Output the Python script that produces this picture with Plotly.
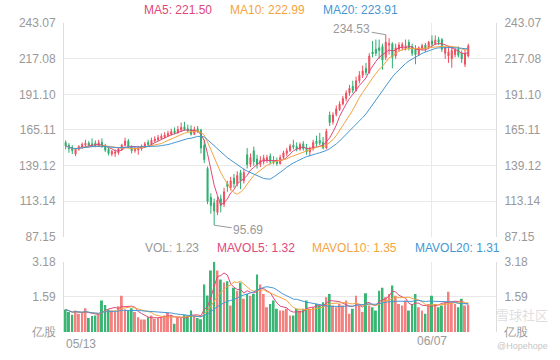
import plotly.graph_objects as go
import pandas as pd

# ---------------- data ----------------
x_tick_labels = ["05/13", "06/07"]
x_tick_index = [0, 111]

open_p = [156.0, 154.0, 152.5, 147.5, 151.0, 152.5, 154.0, 155.5, 155.0, 155.5,
          153.5, 156.0, 153.5, 151.0, 147.5, 148.0, 148.5, 151.0, 154.0, 157.0,
          153.0, 150.0, 150.5, 151.5, 153.0, 156.0, 154.5, 157.0, 158.0, 159.0,
          160.0, 161.0, 162.0, 164.5, 163.0, 165.0, 167.5, 166.0, 165.5, 162.0,
          166.0, 165.0, 154.0, 137.0, 116.0, 112.0, 105.0, 115.0, 111.0, 126.0,
          123.0, 130.0, 126.0, 134.0, 128.0, 147.0, 140.0, 150.0, 144.0, 140.0,
          142.0, 143.0, 146.0, 143.0, 142.0, 140.5, 145.0, 148.0, 150.0, 154.0,
          153.0, 151.0, 155.0, 152.0, 149.0, 151.5, 157.0, 157.5, 156.0, 152.0,
          176.0, 171.0, 176.5, 180.0, 184.0, 188.0, 192.0, 197.0, 194.0, 201.0,
          205.0, 210.0, 207.0, 222.0, 224.0, 225.0, 226.0, 218.0, 227.0, 228.0,
          219.0, 224.0, 225.5, 225.0, 229.0, 226.0, 224.0, 220.0, 224.5, 227.0,
          225.0, 230.0, 228.0, 231.0, 231.0, 221.0, 219.0, 217.0, 220.0, 224.0,
          221.0, 213.0, 219.0]
high_p = [157.5, 155.5, 154.0, 152.0, 154.0, 156.0, 158.0, 157.0, 159.0, 157.5,
          158.0, 159.0, 155.0, 152.5, 150.5, 151.0, 152.5, 155.0, 159.5, 158.5,
          154.0, 153.0, 153.5, 154.5, 156.5, 158.0, 159.5, 160.5, 161.5, 162.5,
          163.5, 164.5, 166.0, 167.0, 168.0, 170.5, 171.0, 169.0, 168.5, 167.5,
          168.0, 166.0, 158.0, 138.5, 119.0, 115.0, 117.0, 118.0, 123.0, 128.0,
          131.0, 133.0, 135.0, 136.0, 137.0, 152.0, 148.0, 153.0, 147.0, 146.0,
          147.0, 147.0, 148.0, 146.0, 145.0, 147.0, 150.0, 152.0, 155.0, 158.0,
          156.0, 156.0, 157.0, 155.0, 153.0, 158.0, 161.0, 163.0, 160.0, 166.0,
          178.5, 178.0, 183.0, 186.0, 190.0, 194.0, 198.0, 201.0, 204.0, 208.0,
          212.0, 214.0, 221.0, 230.0, 231.0, 231.0, 228.0, 234.53, 232.0, 229.0,
          228.0, 229.0, 229.0, 231.0, 231.0, 228.0, 227.0, 226.0, 228.0, 228.5,
          230.0, 234.0, 234.0, 233.0, 232.0, 226.0, 226.0, 226.0, 225.0, 226.0,
          223.0, 224.0, 228.0]
low_p = [151.0, 148.5, 147.5, 146.0, 150.0, 151.5, 153.0, 152.5, 153.0, 152.5,
         153.0, 152.0, 149.0, 146.5, 146.0, 145.5, 147.0, 150.0, 153.0, 152.0,
         148.0, 148.5, 147.0, 150.0, 152.0, 153.0, 154.0, 156.0, 157.0, 158.0,
         159.0, 160.0, 161.0, 162.0, 162.5, 164.0, 164.5, 163.5, 161.0, 161.5,
         163.0, 148.0, 141.0, 111.0, 104.0, 95.69, 103.0, 105.0, 109.0, 120.0,
         121.0, 123.0, 124.0, 122.0, 126.0, 137.0, 138.0, 139.0, 137.0, 138.0,
         140.0, 141.0, 140.0, 140.0, 139.0, 140.0, 144.0, 146.0, 149.0, 151.0,
         149.5, 150.0, 150.0, 147.0, 146.0, 150.0, 153.0, 154.0, 151.0, 151.0,
         168.0, 169.0, 175.0, 179.0, 183.0, 186.0, 190.0, 192.0, 193.0, 199.0,
         203.0, 205.0, 206.0, 218.0, 219.0, 217.0, 209.0, 216.0, 220.0, 210.0,
         217.0, 222.0, 223.0, 223.0, 223.0, 219.0, 213.0, 219.0, 223.0, 222.0,
         224.0, 226.0, 227.0, 227.0, 222.0, 217.0, 214.0, 210.5, 218.0, 218.0,
         214.0, 211.0, 218.0]
close_p = [153.5, 151.5, 150.0, 151.0, 153.0, 154.5, 155.5, 154.0, 154.0, 153.5,
           156.0, 153.0, 150.5, 148.0, 149.5, 149.0, 151.5, 154.0, 157.0, 153.0,
           150.0, 151.5, 152.0, 153.5, 155.0, 154.5, 157.5, 158.5, 159.5, 160.5,
           161.5, 162.5, 164.0, 163.0, 165.5, 167.0, 165.5, 164.5, 162.0, 165.5,
           164.5, 152.0, 143.5, 113.0, 110.0, 106.0, 114.0, 110.0, 120.0, 124.0,
           128.0, 126.0, 132.0, 128.0, 134.0, 140.0, 145.0, 142.0, 140.0, 143.0,
           144.5, 145.0, 142.0, 141.5, 140.5, 145.0, 148.5, 150.0, 153.5, 152.5,
           151.0, 154.5, 151.5, 149.0, 151.5, 156.0, 155.0, 155.5, 152.0, 164.0,
           170.5, 176.0, 180.5, 184.0, 188.0, 192.0, 195.5, 194.0, 201.0, 205.0,
           208.0, 207.0, 219.0, 220.5, 221.0, 223.0, 216.0, 229.0, 228.0, 218.0,
           225.0, 227.0, 227.5, 226.5, 225.0, 221.0, 220.0, 225.0, 226.5, 224.5,
           229.0, 227.5, 230.5, 229.0, 224.0, 225.0, 222.0, 223.0, 223.5, 219.5,
           217.0, 221.0, 226.5]
volume = [1.02, 0.90, 0.78, 0.97, 0.82, 0.90, 1.07, 0.63, 0.72, 0.75,
          0.78, 1.42, 1.22, 1.02, 0.97, 0.93, 1.16, 1.64, 1.02, 0.97,
          1.07, 0.90, 0.67, 0.57, 0.57, 0.67, 0.75, 0.60, 0.63, 0.67,
          0.75, 0.87, 0.78, 0.37, 0.67, 0.63, 0.78, 0.75, 0.97, 0.75,
          0.63, 0.58, 2.15, 1.65, 2.78, 3.18, 2.78, 2.37, 2.24, 2.30,
          1.20, 2.00, 1.87, 2.24, 1.50, 1.72, 1.64, 1.72, 2.60, 2.15,
          1.72, 1.12, 1.27, 1.42, 1.05, 0.97, 0.97, 1.05, 0.75, 0.75,
          1.05, 0.97, 1.05, 1.42, 1.05, 1.12, 1.27, 1.20, 1.34, 1.57,
          1.72, 1.20, 1.12, 1.27, 1.20, 1.42, 0.82, 1.05, 1.64, 1.20,
          0.90, 1.75, 1.20, 1.12, 0.97, 1.87, 2.00, 1.57, 1.72, 2.10,
          1.64, 1.27, 1.20, 1.42, 0.97, 1.27, 1.72, 1.12, 0.97, 0.82,
          1.27, 1.64, 1.27, 1.12, 1.20, 1.34, 1.82, 1.34, 1.27, 1.12,
          1.50, 1.20, 1.23]

price_ticks = [87.15, 113.14, 139.12, 165.11, 191.10, 217.08, 243.07]
vol_ticks = [0, 1.59, 3.18]
vol_tick_text = ["亿股", "1.59", "3.18"]

ma_labels = ["MA5: 221.50", "MA10: 222.99", "MA20: 223.91"]
vol_labels = ["VOL: 1.23", "MAVOL5: 1.32", "MAVOL10: 1.35", "MAVOL20: 1.31"]

# ---------------- styles ----------------
UP = "#ef4f5e"
DOWN = "#2eae6f"
VUP = "#f2817f"
VDOWN = "#39b574"
C5 = "#e0487a"
C10 = "#f3a43f"
C20 = "#4597d3"
GRID = "#e9e9e9"
AXL = "#dcdcdc"
TXT = "#999999"
FONT = "Liberation Sans, Arial, sans-serif"

idx = list(range(len(close_p)))
cs = pd.Series(close_p)
vs = pd.Series(volume)
ma = {n: cs.rolling(n, min_periods=1).mean() for n in (5, 10, 20)}
mv = {n: vs.rolling(n, min_periods=1).mean() for n in (5, 10, 20)}
vcolors = [VUP if c >= o else VDOWN for o, c in zip(open_p, close_p)]

XR = [-0.5, 130.4]

fig = go.Figure()
fig.add_trace(go.Candlestick(
    x=idx, open=open_p, high=high_p, low=low_p, close=close_p,
    increasing=dict(line=dict(color=UP, width=1), fillcolor=UP),
    decreasing=dict(line=dict(color=DOWN, width=1), fillcolor=DOWN),
    whiskerwidth=0, xaxis="x", yaxis="y", showlegend=False, hoverinfo="skip"))
for n, col in ((5, C5), (10, C10), (20, C20)):
    fig.add_trace(go.Scatter(x=idx, y=ma[n], mode="lines", line=dict(color=col, width=1),
                             xaxis="x", yaxis="y", showlegend=False, hoverinfo="skip"))
fig.add_trace(go.Scatter(x=[idx[0]], y=[close_p[0]], mode="markers", marker=dict(opacity=0),
                         xaxis="x", yaxis="y3", showlegend=False, hoverinfo="skip"))

fig.add_trace(go.Bar(x=idx, y=volume, marker=dict(color=vcolors, line=dict(width=0)),
                     width=0.6, xaxis="x2", yaxis="y2", showlegend=False, hoverinfo="skip"))
for n, col in ((5, C5), (10, C10), (20, C20)):
    fig.add_trace(go.Scatter(x=idx, y=mv[n], mode="lines", line=dict(color=col, width=1),
                             xaxis="x2", yaxis="y2", showlegend=False, hoverinfo="skip"))
fig.add_trace(go.Scatter(x=[idx[0]], y=[volume[0]], mode="markers", marker=dict(opacity=0),
                         xaxis="x2", yaxis="y4", showlegend=False, hoverinfo="skip"))

ytxt = [f"{v:.2f}" for v in price_ticks]
common_y = dict(showgrid=True, gridcolor=GRID, gridwidth=1, zeroline=False, ticks="",
                tickfont=dict(color=TXT, size=12, family=FONT), showline=True,
                linecolor=AXL, linewidth=1, fixedrange=True, ticklabelstandoff=5)

fig.update_layout(
    width=560, height=360,
    margin=dict(l=64, r=64, t=23, b=25),
    paper_bgcolor="white", plot_bgcolor="white", showlegend=False,
    font=dict(family=FONT, size=12, color=TXT),
    boxgap=0.55,
    xaxis=dict(domain=[0, 1], range=XR, anchor="y", tickvals=[x_tick_index[1]],
               showticklabels=False, showgrid=True, gridcolor=GRID, zeroline=False,
               rangeslider=dict(visible=False), showline=False, ticks="", fixedrange=True),
    yaxis=dict(domain=[0.3077, 1], range=[price_ticks[0], price_ticks[-1]],
               tickvals=price_ticks, ticktext=ytxt, side="left", anchor="x", **common_y),
    yaxis3=dict(overlaying="y", side="right", anchor="x", range=[price_ticks[0], price_ticks[-1]],
                tickvals=price_ticks, ticktext=ytxt, **{**common_y, "showgrid": False}),
    xaxis2=dict(domain=[0, 1], range=XR, anchor="y2", tickvals=[x_tick_index[1]],
                ticktext=[x_tick_labels[1]], showgrid=True, gridcolor=GRID, zeroline=False,
                showline=False, ticks="", fixedrange=True,
                tickfont=dict(color=TXT, size=12, family=FONT)),
    yaxis2=dict(domain=[0, 0.2276], range=[vol_ticks[0], vol_ticks[-1]], tickvals=vol_ticks,
                ticktext=vol_tick_text, side="left", anchor="x2", **common_y),
    yaxis4=dict(overlaying="y2", side="right", anchor="x2", range=[vol_ticks[0], vol_ticks[-1]],
                tickvals=vol_ticks, ticktext=vol_tick_text, **{**common_y, "showgrid": False}),
)

ann = []
for txt, px, col in zip(ma_labels, [142, 228, 321], [C5, C10, C20]):
    ann.append(dict(text=txt, x=(px - 64) / 432, y=(335 - 10) / 312, xref="paper", yref="paper",
                    xanchor="left", yanchor="middle", showarrow=False,
                    font=dict(color=col, size=12, family=FONT)))
for txt, px, col in zip(vol_labels, [143, 215, 310, 413], [TXT, C5, C10, C20]):
    ann.append(dict(text=txt, x=(px - 64) / 432, y=(335 - 250) / 312, xref="paper", yref="paper",
                    xanchor="left", yanchor="middle", showarrow=False,
                    font=dict(color=col, size=12, family=FONT)))
ann.append(dict(text=x_tick_labels[0], x=XR[0], y=(335 - 347) / 312, xref="x2", yref="paper",
                xanchor="left", yanchor="middle", showarrow=False,
                font=dict(color=TXT, size=12, family=FONT)))
imax = max(range(len(high_p)), key=lambda i: high_p[i])
imin = min(range(len(low_p)), key=lambda i: low_p[i])
ann.append(dict(text=f"{high_p[imax]:.2f}", x=imax, y=high_p[imax], xref="x", yref="y",
                showarrow=True, arrowhead=0, arrowwidth=1, arrowcolor=TXT, ax=-34, ay=-6,
                standoff=0, font=dict(color=TXT, size=12, family=FONT)))
ann.append(dict(text=f"{low_p[imin]:.2f}", x=imin, y=low_p[imin], xref="x", yref="y",
                showarrow=True, arrowhead=0, arrowwidth=1, arrowcolor=TXT, ax=34, ay=5,
                standoff=0, font=dict(color=TXT, size=12, family=FONT)))
# watermark
ann.append(dict(text="雪球社区", x=(522 - 64) / 432, y=(335 - 317) / 312, xref="paper", yref="paper",
                xanchor="center", yanchor="middle", showarrow=False,
                font=dict(color="rgba(200,200,200,0.6)", size=13, family="Noto Sans CJK SC")))
ann.append(dict(text="@Hopehope", x=(522 - 64) / 432, y=(335 - 349) / 312, xref="paper", yref="paper",
                xanchor="center", yanchor="middle", showarrow=False,
                font=dict(color="rgba(180,180,180,0.8)", size=9, family=FONT)))
fig.update_layout(annotations=ann)

fig.write_html("out.html", config={"displayModeBar": False},
               post_script="document.body.style.margin='0';document.body.style.padding='0';")
